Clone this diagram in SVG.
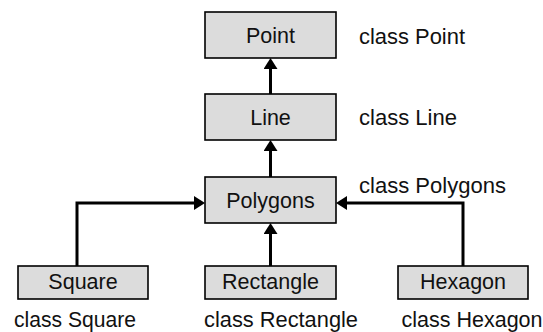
<svg xmlns="http://www.w3.org/2000/svg" width="543" height="332" viewBox="0 0 543 332">
<style>
.box{fill:#dcdcdc;stroke:#000;stroke-width:1.6}
.t{font-family:"Liberation Sans",Arial,sans-serif;font-size:21.5px;fill:#111}
.c{text-anchor:middle}
.conn{fill:none;stroke:#000;stroke-width:3}
</style>
<defs>
<marker id="arr" markerUnits="userSpaceOnUse" markerWidth="11" markerHeight="14" refX="0" refY="7" orient="auto" viewBox="0 0 11 14">
<path d="M0,0 L11,7 L0,14 z" fill="#000"/>
</marker>
</defs>
<rect width="543" height="332" fill="#fff"/>
<g id="connectors">
<path class="conn" d="M270.5,94 V69" marker-end="url(#arr)"/>
<path class="conn" d="M270.5,177 V151" marker-end="url(#arr)"/>
<path class="conn" d="M270.5,266 V234" marker-end="url(#arr)"/>
<path class="conn" d="M77,266 V203 H194" marker-end="url(#arr)"/>
<path class="conn" d="M463,266 V203 H347" marker-end="url(#arr)"/>
</g>
<g id="point">
<rect class="box" x="205" y="12" width="131" height="46"/>
<text class="t c" x="270.5" y="43">Point</text>
</g>
<g id="line">
<rect class="box" x="205" y="94" width="131" height="46"/>
<text class="t c" x="270.5" y="125">Line</text>
</g>
<g id="polygons">
<rect class="box" x="205" y="177" width="131" height="46"/>
<text class="t c" x="270.5" y="208">Polygons</text>
</g>
<g id="square">
<rect class="box" x="18" y="266" width="130" height="33"/>
<text class="t c" x="83" y="289">Square</text>
</g>
<g id="rectangle">
<rect class="box" x="205" y="266" width="131" height="33"/>
<text class="t c" x="270.5" y="289">Rectangle</text>
</g>
<g id="hexagon">
<rect class="box" x="398" y="266" width="130" height="33"/>
<text class="t c" x="463" y="289">Hexagon</text>
</g>
<g id="labels">
<text class="t" x="359" y="43.5" textLength="106" lengthAdjust="spacingAndGlyphs">class Point</text>
<text class="t" x="359" y="125" textLength="98" lengthAdjust="spacingAndGlyphs">class Line</text>
<text class="t" x="359" y="193" textLength="147" lengthAdjust="spacingAndGlyphs">class Polygons</text>
<text class="t" x="14" y="326.5" textLength="122" lengthAdjust="spacingAndGlyphs">class Square</text>
<text class="t" x="204" y="326.5" textLength="154" lengthAdjust="spacingAndGlyphs">class Rectangle</text>
<text class="t" x="401.5" y="326.5" textLength="141" lengthAdjust="spacingAndGlyphs">class Hexagon</text>
</g>
</svg>
